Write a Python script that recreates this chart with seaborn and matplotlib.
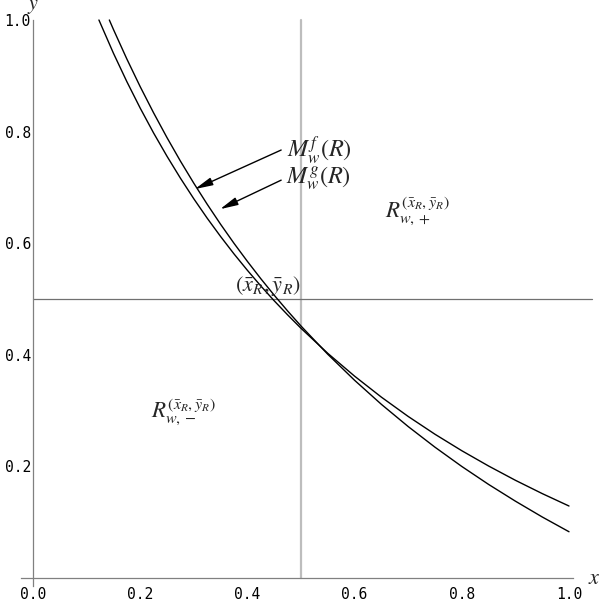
import matplotlib
matplotlib.use('Agg')
import matplotlib.pyplot as plt
import seaborn as sns
import pandas as pd
from matplotlib.ticker import FixedLocator

# ---- data ----
xf = [0.123, 0.15, 0.175, 0.2, 0.225, 0.25, 0.275, 0.3, 0.325, 0.35, 0.375, 0.4,
      0.425, 0.45, 0.475, 0.5, 0.55, 0.6, 0.65, 0.7, 0.75, 0.8, 0.85, 0.9, 0.95, 1.0]
yf = [1.000, 0.9406, 0.8897, 0.8421, 0.7975, 0.7558, 0.7166, 0.6796, 0.6448, 0.6120,
      0.5808, 0.5514, 0.5234, 0.4968, 0.4716, 0.4475, 0.4026, 0.3617, 0.3241, 0.2895,
      0.2576, 0.2281, 0.2007, 0.1751, 0.1513, 0.1290]
xg = [0.1424, 0.15, 0.175, 0.2, 0.225, 0.25, 0.275, 0.3, 0.325, 0.35, 0.375, 0.4,
      0.425, 0.45, 0.475, 0.5, 0.55, 0.6, 0.65, 0.7, 0.75, 0.8, 0.85, 0.9, 0.95, 1.0]
yg = [1.000, 0.9832, 0.9303, 0.8805, 0.8336, 0.7892, 0.7472, 0.7075, 0.6698, 0.6339,
      0.5998, 0.5674, 0.5364, 0.5068, 0.4786, 0.4516, 0.4009, 0.3543, 0.3112, 0.2714,
      0.2344, 0.1999, 0.1677, 0.1377, 0.1094, 0.0829]
x_bar = 0.5
y_bar = 0.5
xtick_vals = [0.0, 0.2, 0.4, 0.6, 0.8, 1.0]
xtick_labels = ["0.0", "0.2", "0.4", "0.6", "0.8", "1.0"]
ytick_vals = [0.2, 0.4, 0.6, 0.8, 1.0]
ytick_labels = ["0.2", "0.4", "0.6", "0.8", "1.0"]

sns.set_theme(style='white')
plt.rcParams['mathtext.fontset'] = 'stix'
plt.rcParams['font.family'] = ['DejaVu Sans Mono', 'DejaVu Sans']

fig = plt.figure(figsize=(6.0, 6.05), dpi=100)
ax = fig.add_axes([0, 0, 1, 1])
ax.set_xlim(-33 / 536, (600 - 33) / 536)
ax.set_ylim((578 - 605) / 558, 578 / 558)
ax.patch.set_alpha(0)

# reference lines
ax.plot([x_bar, x_bar], [0, 1.0], color='#bdbdbd', lw=1.6, zorder=1)
ax.plot([0, 1.043], [y_bar, y_bar], color='#707070', lw=0.9, zorder=1)

df_f = pd.DataFrame({'x': xf, 'y': yf})
df_g = pd.DataFrame({'x': xg, 'y': yg})
sns.lineplot(data=df_f, x='x', y='y', color='black', lw=1.0, ax=ax, estimator=None, sort=False, zorder=3)
sns.lineplot(data=df_g, x='x', y='y', color='black', lw=1.0, ax=ax, estimator=None, sort=False, zorder=3)
ax.set_xlabel('')
ax.set_ylabel('')

# axes through origin
for s in ['top', 'right']:
    ax.spines[s].set_visible(False)
ax.spines['left'].set_position(('data', 0))
ax.spines['bottom'].set_position(('data', 0))
ax.spines['left'].set_bounds(-0.014, 1.0)
ax.spines['bottom'].set_bounds(-0.022, 1.007)
for s in ['left', 'bottom']:
    ax.spines[s].set_color('#808080')
    ax.spines[s].set_linewidth(0.9)

ax.set_xticks(xtick_vals)
ax.set_xticklabels(xtick_labels)
ax.set_yticks(ytick_vals)
ax.set_yticklabels(ytick_labels)
ax.xaxis.set_minor_locator(FixedLocator([i * 0.05 for i in range(1, 20) if i % 4 != 0]))
ax.yaxis.set_minor_locator(FixedLocator([i * 0.05 for i in range(1, 20) if i % 4 != 0]))
ax.tick_params(which='major', direction='in', length=5.8, width=0.8, color='#909090',
               labelsize=10.5, labelcolor='black')
ax.tick_params(which='minor', direction='in', length=3.6, width=0.8, color='#a0a0a0')
ax.tick_params(axis='x', which='major', pad=6.5)
ax.tick_params(axis='y', which='major', pad=1.5)

# axis labels
ax.text(1.047, 0.0, '$x$', fontsize=16, ha='center', va='center')
ax.text(0.0, 1.008, '$y$', fontsize=16, ha='center', va='bottom')

# annotations
ax.text(0.474, 0.767, r'$M_w^f(R)$', fontsize=17.5, ha='left', va='center')
ax.text(0.472, 0.717, r'$M_w^g(R)$', fontsize=17.5, ha='left', va='center')
arrow_kw = dict(arrowstyle='-|>,head_length=0.9,head_width=0.2', color='black',
                lw=1.0, mutation_scale=12, shrinkA=0, shrinkB=0)
ax.annotate('', xy=(0.302, 0.697), xytext=(0.463, 0.767), arrowprops=arrow_kw)
ax.annotate('', xy=(0.349, 0.661), xytext=(0.463, 0.713), arrowprops=arrow_kw)
ax.text(0.657, 0.658, r'$R_{w,+}^{(\bar{x}_R,\bar{y}_R)}$', fontsize=16.5, ha='left', va='center')
ax.text(0.220, 0.2975, r'$R_{w,-}^{(\bar{x}_R,\bar{y}_R)}$', fontsize=16.5, ha='left', va='center')
ax.text(0.438, 0.523, r'$(\bar{x}_R,\bar{y}_R)$', fontsize=16, ha='center', va='center')

fig.savefig('out.png', dpi=100)
